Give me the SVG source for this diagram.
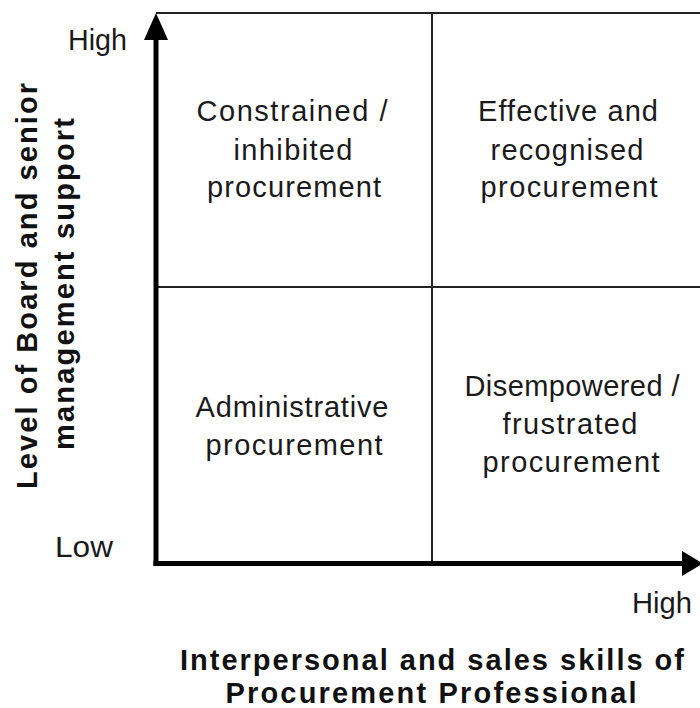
<svg xmlns="http://www.w3.org/2000/svg" width="700" height="708" viewBox="0 0 700 708">
  <style>
    .lbl { font-family: "Liberation Sans", Arial, sans-serif; font-size: 29px; fill: #1a1a1a; }
    .q { text-anchor: middle; }
    .title { font-family: "Liberation Sans", Arial, sans-serif; font-size: 29px; font-weight: bold; fill: #111; text-anchor: middle; }
    .grid { stroke: #222; stroke-width: 2; fill: none; }
    .axis { stroke: #000; stroke-width: 5; fill: none; }
  </style>
  <rect width="700" height="708" fill="#fff"/>

  <g id="connectors">
    <!-- matrix frame and dividers -->
    <line class="grid" x1="156" y1="13" x2="700" y2="13"/>
    <line class="grid" x1="432" y1="13" x2="432" y2="563"/>
    <line class="grid" x1="156" y1="287" x2="700" y2="287"/>
    <!-- axes -->
    <path class="axis" d="M156 566 V36"/>
    <polygon points="156,13 144,40 168,40" fill="#000"/>
    <path class="axis" d="M153.5 563.5 H686"/>
    <polygon points="703,563.5 682,551 682,576" fill="#000"/>
  </g>

  <g id="axis-labels">
    <text class="lbl" x="68" y="50" textLength="59" lengthAdjust="spacingAndGlyphs">High</text>
    <text class="lbl" x="55" y="557" textLength="58" lengthAdjust="spacingAndGlyphs">Low</text>
    <text class="lbl" x="632" y="613" textLength="60" lengthAdjust="spacingAndGlyphs">High</text>
  </g>

  <g id="y-title">
    <text class="title" transform="translate(37,286) rotate(-90)" textLength="406">Level of Board and senior</text>
    <text class="title" transform="translate(74,284) rotate(-90)" textLength="332">management support</text>
  </g>

  <g id="x-title">
    <text class="title" x="432" y="670" textLength="504">Interpersonal and sales skills of</text>
    <text class="title" x="431" y="703" textLength="411">Procurement Professional</text>
  </g>

  <g id="q-constrained">
    <text class="lbl q" x="292" y="121" textLength="191">Constrained /</text>
    <text class="lbl q" x="293" y="160" textLength="119">inhibited</text>
    <text class="lbl q" x="294" y="197" textLength="174">procurement</text>
  </g>

  <g id="q-effective">
    <text class="lbl q" x="568" y="121" textLength="180">Effective and</text>
    <text class="lbl q" x="567" y="160" textLength="153">recognised</text>
    <text class="lbl q" x="569" y="197" textLength="177">procurement</text>
  </g>

  <g id="q-administrative">
    <text class="lbl q" x="292" y="417" textLength="193">Administrative</text>
    <text class="lbl q" x="294" y="455" textLength="177">procurement</text>
  </g>

  <g id="q-disempowered">
    <text class="lbl q" x="572" y="396" textLength="215">Disempowered /</text>
    <text class="lbl q" x="570" y="434" textLength="135">frustrated</text>
    <text class="lbl q" x="571" y="472" textLength="177">procurement</text>
  </g>
</svg>
